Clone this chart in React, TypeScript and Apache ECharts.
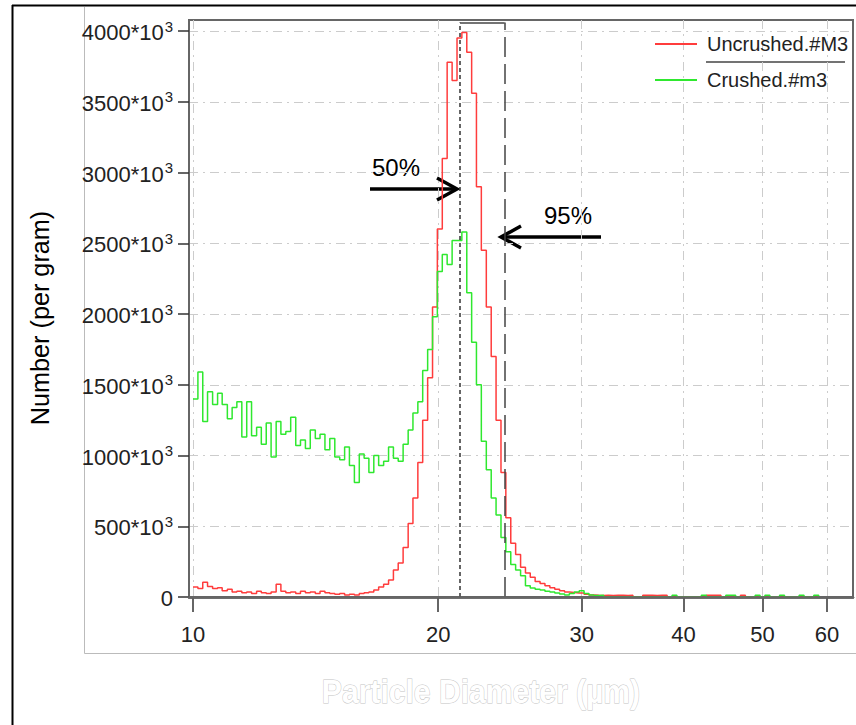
import React, { useEffect, useRef } from "react";
import * as echarts from "echarts";

// Bin diameters (µm) of the particle size histogram
const DIAMETER_UM = [
  10.0, 10.14, 10.28, 10.42, 10.57, 10.72, 10.86, 11.02, 11.17, 11.32,
  11.48, 11.64, 11.8, 11.97, 12.13, 12.3, 12.47, 12.65, 12.82, 13.0,
  13.18, 13.37, 13.55, 13.74, 13.93, 14.13, 14.32, 14.52, 14.72, 14.93,
  15.14, 15.35, 15.56, 15.78, 16.0, 16.22, 16.44, 16.67, 16.9, 17.14,
  17.38, 17.62, 17.86, 18.11, 18.37, 18.62, 18.88, 19.14, 19.41, 19.68,
  19.95, 20.23, 20.51, 20.8, 21.09, 21.38, 21.68, 21.98, 22.28, 22.59,
  22.91, 23.23, 23.55, 23.88, 24.21, 24.55, 24.89, 25.24, 25.59, 25.94,
  26.3, 26.67, 27.04, 27.42, 27.8, 28.18, 28.58, 28.97, 29.38, 29.79,
  30.2, 30.62, 31.05, 31.48, 31.92, 32.36, 32.81, 33.27, 33.73, 34.2,
  34.67, 35.16, 35.65, 36.14, 36.64, 37.15, 37.67, 38.19, 38.73, 39.26,
  39.81, 40.36, 40.93, 41.5, 42.07, 42.66, 43.25, 43.85, 44.46, 45.08,
  45.71, 46.35, 46.99, 47.64, 48.31, 48.98, 49.66, 50.35, 51.05, 51.76,
  52.48, 53.21, 53.95, 54.7, 55.46, 56.23, 57.02, 57.81, 58.61,
];

// Number per gram, in thousands (×10³)
const UNCRUSHED_M3 = [
  70, 60, 105, 75, 60, 65, 45, 55, 35, 40,
  30, 35, 25, 40, 30, 25, 35, 90, 40, 30,
  35, 25, 40, 30, 35, 25, 40, 30, 25, 20,
  25, 15, 20, 15, 25, 30, 35, 50, 70, 90,
  120, 190, 240, 350, 520, 700, 950, 1250, 1550, 2050,
  2600, 3100, 3780, 3650, 3950, 3990, 3850, 3560, 2900, 2450,
  2050, 1700, 1250, 880, 560, 380, 300, 210, 170, 140,
  110, 95, 80, 65, 55, 45, 35, 32, 28, 28,
  20, 15, 12, 10, 12, 10, 12, 12, 10, 12,
  0, 0, 12, 12, 10, 12, 12, 0, 0, 0,
  0, 0, 0, 0, 0, 12, 12, 12, 0, 0,
  0, 0, 12, 0, 0, 0, 0, 0, 0, 0,
  0, 0, 0, 0, 0, 0, 0, 0, 0,
];

const CRUSHED_M3 = [
  1400, 1590, 1240, 1450, 1360, 1440, 1360, 1260, 1340, 1380,
  1130, 1380, 1140, 1200, 1080, 1230, 990, 1240, 1150, 1170,
  1270, 1070, 1110, 1050, 1180, 1120, 1150, 1040, 1120, 990,
  970, 1060, 930, 810, 1010, 980, 880, 1000, 930, 960,
  1060, 980, 960, 1080, 1180, 1300, 1380, 1600, 1750, 1980,
  2300, 2420, 2350, 2520, 2520, 2580, 2150, 1800, 1500, 1100,
  900, 700, 580, 420, 320, 230, 190, 150, 80, 64,
  55, 50, 40, 35, 28, 22, 15, 25, 35, 45,
  25, 15, 10, 12, 0, 0, 0, 0, 0, 0,
  0, 0, 0, 0, 0, 0, 0, 0, 12, 0,
  0, 0, 0, 0, 12, 0, 0, 0, 0, 12,
  12, 0, 0, 0, 0, 12, 0, 12, 0, 0,
  12, 0, 0, 0, 12, 0, 0, 12, 0,
];

const SERIES_NAMES = ["Uncrushed.#M3", "Crushed.#m3"];
const X_TICKS_UM = [10, 20, 30, 40, 50, 60];
const Y_TICKS_K = [0, 500, 1000, 1500, 2000, 2500, 3000, 3500, 4000];
const X_MIN_UM = 9.888;
const X_MAX_UM = 64.58;
const Y_MAX_K = 4078;
const D50_UM = 21.27;
const D95_UM = 24.12;
const BRACKET_TOP_K = 4060;
const ARROW_LABELS = ["50%", "95%"];

const ARIAL = "'Liberation Sans', Arial, sans-serif";

const RED = "#ff3c3c";
const GREEN = "#2fe82f";

function arrow(x1: number, x2: number, y: number, dir: number) {
  return {
    type: "group",
    children: [
      {
        type: "line",
        shape: { x1, y1: y, x2: x2 - dir * 2, y2: y },
        style: { stroke: "#000", lineWidth: 3.5 },
      },
      {
        type: "polyline",
        shape: {
          points: [
            [x2 - dir * 20, y - 11],
            [x2, y],
            [x2 - dir * 20, y + 11],
          ],
        },
        style: { stroke: "#000", lineWidth: 3.5, fill: "none" },
      },
    ],
  };
}

export default function App() {
  const ref = useRef<HTMLDivElement>(null);

  useEffect(() => {
    if (!ref.current) return;
    const chart = echarts.init(ref.current, undefined, { renderer: "svg" });
    const lg = (v: number) => Math.log10(v);

    const gridLine = { color: "#cccccc", width: 1, type: [9, 5, 2, 5] };

    const option: any = {
      animation: false,
      backgroundColor: "#ffffff",
      textStyle: { fontFamily: ARIAL },
      grid: {
        left: 189,
        top: 20,
        right: 3,
        bottom: 128,
        show: true,
        borderColor: "#666",
        borderWidth: 2,
        backgroundColor: "transparent",
      },
      legend: {
        left: 655,
        top: 34,
        orient: "vertical",
        padding: 0,
        itemWidth: 42,
        itemHeight: 2,
        itemGap: 16,
        icon: "rect",
        data: SERIES_NAMES,
        textStyle: {
          fontSize: 20,
          fontFamily: ARIAL,
          color: "#222",
          padding: [0, 0, 0, 5],
        },
      },
      xAxis: [
        {
          type: "value",
          min: lg(X_MIN_UM),
          max: lg(X_MAX_UM),
          axisLine: { show: true, lineStyle: { color: "#666", width: 2.5 } },
          axisTick: {
            show: true,
            length: 15,
            customValues: X_TICKS_UM.map(lg),
            lineStyle: { color: "#333", width: 1.5 },
          },
          axisLabel: {
            customValues: X_TICKS_UM.map(lg),
            formatter: (v: number) => String(Math.round(Math.pow(10, v))),
            fontSize: 22,
            fontFamily: ARIAL,
            color: "#222",
            margin: 26,
          },
          splitLine: { show: true, lineStyle: gridLine },
        },
        {
          type: "value",
          position: "bottom",
          min: lg(X_MIN_UM),
          max: lg(X_MAX_UM),
          z: 10,
          axisLine: { show: true, lineStyle: { color: "#666", width: 2.5 } },
          axisTick: { show: false },
          axisLabel: { show: false },
          splitLine: { show: false },
        },
      ],
      yAxis: {
        type: "value",
        min: 0,
        max: Y_MAX_K,
        axisLine: { show: true, lineStyle: { color: "#666", width: 2 } },
        axisTick: {
          show: true,
          length: 11,
          customValues: Y_TICKS_K,
          lineStyle: { color: "#333", width: 1.5 },
        },
        axisLabel: {
          customValues: Y_TICKS_K,
          margin: 16,
          formatter: (v: number) => (v === 0 ? "{m|0}" : `{m|${v}*10}{s|3}`),
          rich: {
            m: { fontSize: 22, fontFamily: ARIAL, color: "#222", lineHeight: 25, verticalAlign: "bottom" },
            s: {
              fontSize: 15,
              fontFamily: ARIAL,
              color: "#222",
              verticalAlign: "top",
              lineHeight: 15,
              padding: [0, 0, 0, 1],
            },
          },
        },
        splitLine: { show: true, lineStyle: gridLine },
      },
      series: [
        {
          name: SERIES_NAMES[0],
          type: "line",
          step: "end",
          xAxisIndex: 0,
          showSymbol: false,
          symbol: "none",
          color: RED,
          lineStyle: { color: RED, width: 1.5 },
          data: DIAMETER_UM.map((d, i) => [lg(d), UNCRUSHED_M3[i]]),
          markLine: {
            silent: true,
            symbol: ["none", "none"],
            label: { show: false },
            data: [
              [
                { coord: [lg(D50_UM), 0], lineStyle: { color: "#333", width: 1.5, type: [4, 3] } },
                { coord: [lg(D50_UM), BRACKET_TOP_K] },
              ],
              [
                { coord: [lg(D95_UM), 0], lineStyle: { color: "#444", width: 1.5, type: [20, 7] } },
                { coord: [lg(D95_UM), BRACKET_TOP_K] },
              ],
              [
                { coord: [lg(D50_UM), BRACKET_TOP_K], lineStyle: { color: "#444", width: 1.5, type: "solid" } },
                { coord: [lg(D95_UM), BRACKET_TOP_K] },
              ],
            ],
          },
        },
        {
          name: SERIES_NAMES[1],
          type: "line",
          step: "end",
          xAxisIndex: 0,
          showSymbol: false,
          symbol: "none",
          color: GREEN,
          lineStyle: { color: GREEN, width: 1.5 },
          data: DIAMETER_UM.map((d, i) => [lg(d), CRUSHED_M3[i]]),
        },
      ],
      graphic: [
        { type: "line", shape: { x1: 12, y1: 5.5, x2: 860, y2: 5.5 }, style: { stroke: "#000", lineWidth: 2 } },
        { type: "line", shape: { x1: 12.5, y1: 5, x2: 12.5, y2: 730 }, style: { stroke: "#000", lineWidth: 2 } },
        {
          type: "polyline",
          shape: { points: [[84.5, 7], [84.5, 653.5], [860, 653.5]] },
          style: { stroke: "#bbbbbb", lineWidth: 1, fill: "none" },
        },
        { type: "line", shape: { x1: 706, y1: 62, x2: 845, y2: 62 }, style: { stroke: "#444", lineWidth: 1.5 } },
        {
          type: "text",
          x: 40,
          y: 318,
          rotation: Math.PI / 2,
          scaleX: 0.97,
          style: {
            text: "Number (per gram)",
            fontSize: 26,
            fontFamily: ARIAL,
            fill: "#000",
            align: "center",
            verticalAlign: "middle",
          },
        },
        {
          type: "text",
          x: 481,
          y: 691,
          scaleX: 0.885,
          style: {
            text: "Particle Diameter (µm)",
            fontSize: 34,
            fontWeight: "bold",
            fontFamily: ARIAL,
            fill: "#ffffff",
            stroke: "#c4c4c4",
            lineWidth: 1,
            align: "center",
            verticalAlign: "middle",
          },
        },
        arrow(370, 457, 189, 1),
        arrow(601, 501, 237, -1),
        {
          type: "text",
          x: 396,
          y: 167,
          style: { text: ARROW_LABELS[0], fontSize: 24, fontFamily: ARIAL, fill: "#000", align: "center", verticalAlign: "middle" },
        },
        {
          type: "text",
          x: 568,
          y: 215,
          style: { text: ARROW_LABELS[1], fontSize: 24, fontFamily: ARIAL, fill: "#000", align: "center", verticalAlign: "middle" },
        },
      ],
    };

    chart.setOption(option);
    return () => chart.dispose();
  }, []);

  return (
    <div
      ref={ref}
      style={{ position: "fixed", left: 0, top: 0, width: 856, height: 725, background: "#fff" }}
    />
  );
}
